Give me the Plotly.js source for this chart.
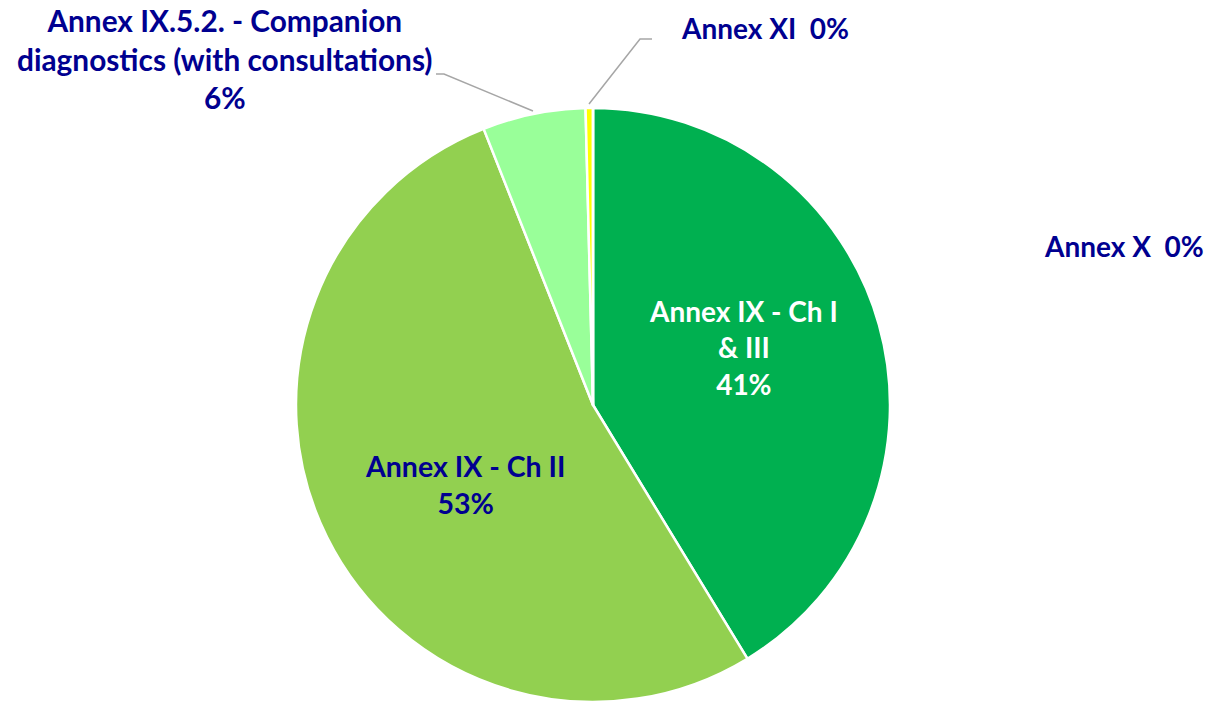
<!DOCTYPE html>
<html>
<head>
<meta charset="utf-8">
<script src="https://cdn.plot.ly/plotly-3.0.1.min.js"></script>
<style>
html,body{margin:0;padding:0;background:#fff;overflow:hidden;}
#chart{width:1211px;height:703px;}
</style>
</head>
<body>
<div id="chart"></div>
<script>
// ---- data ----
var categories = ["Annex IX - Ch I & III", "Annex IX - Ch II", "Annex IX.5.2. - Companion diagnostics (with consultations)", "Annex XI", "Annex X"];
var values = [41.3, 52.7, 5.6, 0.4, 0.0];
var sliceColors = ["#00B050", "#92D050", "#99FF99", "#FFFF00", "#4472C4"];

var W = 1211, H = 703;
function px(x) { return x / W; }
function py(y) { return 1 - y / H; }

var total = values.reduce(function (a, b) { return a + b; }, 0);
var pct = values.map(function (v) { return Math.round(v / total * 100) + "%"; });

var navy = "#000090";
var fam = "Lato, 'Open Sans', sans-serif";

var trace = {
  type: "pie",
  labels: categories,
  values: values,
  sort: false,
  direction: "clockwise",
  rotation: 0,
  marker: { colors: sliceColors, line: { color: "#FFFFFF", width: 2.5 } },
  textinfo: "none",
  hoverinfo: "none",
  showlegend: false,
  domain: { x: [px(296), px(890)], y: [py(702), py(108)] }
};

function ann(text, x, y, color, size) {
  return {
    text: text, xref: "paper", yref: "paper", x: px(x), y: py(y),
    xanchor: "center", yanchor: "middle", showarrow: false, align: "center",
    font: { family: fam, size: size || 28, color: color, weight: 700 }
  };
}

var annotations = [
  ann("Annex IX - Ch I<br>&amp; III<br>" + pct[0], 743, 347, "#FFFFFF", 28),
  ann("Annex IX - Ch II<br>" + pct[1], 465, 484, navy, 28.5),
  ann("Annex IX.5.2. - Companion<br>diagnostics (with consultations)<br>" + pct[2], 225, 59, navy, 29.8),
  ann("Annex XI&nbsp;&nbsp;" + pct[3], 765, 28, navy, 28),
  ann("Annex X&nbsp;&nbsp;" + pct[4], 1124, 246, navy, 28)
];

var lineStyle = { color: "#A6A6A6", width: 1.5 };
var shapes = [
  { type: "path", xref: "paper", yref: "paper",
    path: "M " + px(436) + " " + py(74) + " L " + px(444) + " " + py(74) + " L " + px(533) + " " + py(111),
    line: lineStyle },
  { type: "path", xref: "paper", yref: "paper",
    path: "M " + px(652) + " " + py(39) + " L " + px(640) + " " + py(39) + " L " + px(589) + " " + py(104),
    line: lineStyle }
];

var layout = {
  width: W, height: H,
  margin: { l: 0, r: 0, t: 0, b: 0 },
  paper_bgcolor: "#FFFFFF",
  plot_bgcolor: "#FFFFFF",
  showlegend: false,
  annotations: annotations,
  shapes: shapes
};

Plotly.newPlot("chart", [trace], layout, { displayModeBar: false, staticPlot: true });
</script>
</body>
</html>
